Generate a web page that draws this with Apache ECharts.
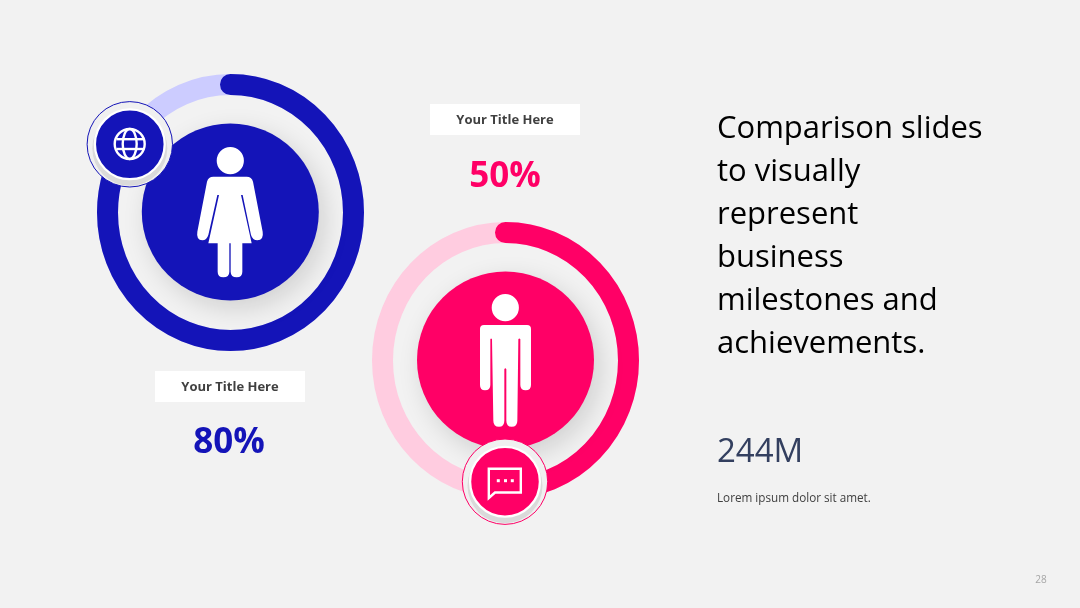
<!DOCTYPE html>
<html><head><meta charset="utf-8">
<style>html,body{margin:0;padding:0;background:#f2f2f2}#c{width:1080px;height:608px}</style>
<script src="https://cdn.jsdelivr.net/npm/echarts@6/dist/echarts.min.js"></script>
</head><body><div id="c"></div>
<script>
const ringLabels = ['Your Title Here', 'Your Title Here'];
const ringValues = [80, 50];
const ringColors = ['#1414B8', '#FF0066'];
const trackColors = ['#CCCCFF', '#FFCCE0'];
const headline = ['Comparison slides', 'to visually', 'represent', 'business', 'milestones and', 'achievements.'];
const statValue = '244M';
const statNote = 'Lorem ipsum dolor sit amet.';
const pageNumber = '28';

const FONT = '"Open Sans","Noto Sans",sans-serif';
const chart = echarts.init(document.getElementById('c'), null, {renderer: 'canvas'});

// The reference rings are very slightly taller than wide, so they are drawn as elliptical arcs.
function ring(i, cx, cy) {
  const rx = 123, ry = 128, width = 21;
  return {
    type: 'custom', coordinateSystem: 'none', z: 2, silent: true, animation: false,
    name: ringLabels[i],
    data: [[ringValues[i]]],
    renderItem(params, api) {
      const a = echarts.number.linearMap(api.value(0), [0, 100], [0, 2 * Math.PI]);
      const ex = cx + rx * Math.sin(a), ey = cy - ry * Math.cos(a);
      const large = a > Math.PI ? 1 : 0;
      return {type: 'group', children: [
        {type: 'ellipse', shape: {cx, cy, rx, ry}, style: {fill: 'none', stroke: trackColors[i], lineWidth: width}},
        {type: 'path', shape: {pathData: `M${cx} ${cy - ry}A${rx} ${ry} 0 ${large} 1 ${ex} ${ey}`},
          style: {fill: 'none', stroke: ringColors[i], lineWidth: width, lineCap: 'round'}}
      ]};
    }
  };
}
function disc(cx, cy, r, color) {
  return {type: 'circle', z: 10, shape: {cx, cy, r},
    style: {fill: color, shadowBlur: 26, shadowOffsetX: 6, shadowOffsetY: 8, shadowColor: 'rgba(0,0,0,0.14)'}};
}
function badge(cx, cy, color) {
  return [
    {type: 'circle', z: 20, shape: {cx, cy, r: 42.7}, style: {fill: '#F0F0F0', stroke: color, lineWidth: 1}},
    {type: 'circle', z: 21, shape: {cx, cy: cy + 4, r: 37.5}, style: {fill: '#DADADA'}},
    {type: 'circle', z: 22, shape: {cx, cy, r: 34.9}, style: {fill: color, stroke: '#fff', lineWidth: 2.3}}
  ];
}
function label(cx, cy, txt, size, fill, weight) {
  return {type: 'text', z: 30, x: cx, y: cy,
    style: {text: txt, fill, font: `${weight || 'bold'} ${size}px ${FONT}`, align: 'center', verticalAlign: 'middle'}};
}
function left(x, cy, txt, size, fill) {
  return {type: 'text', z: 30, x, y: cy,
    style: {text: txt, fill, font: `${size}px ${FONT}`, align: 'left', verticalAlign: 'middle'}};
}
const WOMAN = 'M400 350L500 350Q515 350 519 365L548 515Q552 540 532 541Q518 541 513 525L488 405L483 405L515 550L487 550L487 635Q487 652 470 652Q452 652 452 635L452 550L448 550L448 635Q448 652 430 652Q413 652 413 635L413 550L385 550L417 405L412 405L385 525Q380 541 367 541Q348 540 352 515L381 365Q385 350 400 350Z';
const MAN = 'M372 345L501 345Q513 345 513 357L513 525Q513 541 497 541Q481 541 481 525L481 388Q478 383 475 388L472 632Q472 650 455 650Q439 650 439 632L439 478Q436 472 433 478L433 632Q433 650 417 650Q400 650 400 632L396 388Q393 383 391 388L391 525Q391 541 375 541Q360 541 360 525L360 357Q360 345 372 345Z';
echarts.graphic.registerShape('womanIcon', echarts.graphic.extendPath(WOMAN, {}));
echarts.graphic.registerShape('manIcon', echarts.graphic.extendPath(MAN, {}));
const icon = (type, x, y) => ({type, z: 25, x, y, scaleX: 1 / 3, scaleY: 1 / 3, style: {fill: '#fff'}});
const white = {fill: 'none', stroke: '#fff', lineWidth: 2.4};
const dot = (x, y) => ({type: 'rect', z: 25, shape: {x: x - 1.5, y: y - 1.5, width: 3, height: 3}, style: {fill: '#fff'}});

const elements = [
  disc(230.3, 212, 88.5, ringColors[0]),
  disc(505.5, 360, 88.5, ringColors[1]),
  {type: 'circle', z: 25, shape: {cx: 230.3, cy: 160.7, r: 13.6}, style: {fill: '#fff'}},
  icon('womanIcon', 80, 60),
  {type: 'circle', z: 25, shape: {cx: 505.3, cy: 307.7, r: 13.6}, style: {fill: '#fff'}},
  icon('manIcon', 360, 210),
  ...badge(129.8, 144.3, ringColors[0]),
  ...badge(505, 481.7, ringColors[1]),
  {type: 'circle', z: 25, shape: {cx: 129.7, cy: 144, r: 15}, style: white},
  {type: 'ellipse', z: 25, shape: {cx: 129.7, cy: 144, rx: 7, ry: 15}, style: white},
  {type: 'line', z: 25, shape: {x1: 116.5, y1: 139.2, x2: 143, y2: 139.2}, style: white},
  {type: 'line', z: 25, shape: {x1: 116.5, y1: 149, x2: 143, y2: 149}, style: white},
  {type: 'polygon', z: 25, shape: {points: [[488.8, 468.8], [520.8, 468.8], [520.8, 492.5], [495, 492.5], [488.8, 498]]}, style: white},
  dot(498.3, 480.7), dot(505.5, 480.7), dot(512.3, 480.7),
  {type: 'rect', z: 5, shape: {x: 155, y: 371, width: 150, height: 31}, style: {fill: '#fff'}},
  {type: 'rect', z: 5, shape: {x: 430, y: 104, width: 150, height: 31}, style: {fill: '#fff'}},
  label(230, 387.5, ringLabels[0], 13, '#404040'),
  label(505, 120.5, ringLabels[1], 13, '#404040'),
  label(229, 443, ringValues[0] + '%', 35, ringColors[0]),
  label(505, 177, ringValues[1] + '%', 35, ringColors[1]),
  ...headline.map((t, i) => left(717, 129 + i * 43, t, 31, '#000')),
  left(717, 453, statValue, 33, '#333F5F'),
  left(717, 498.5, statNote, 11.7, '#404040'),
  label(1041, 580, pageNumber, 10, '#a6a6a6', 'normal')
];

chart.setOption({
  backgroundColor: '#F2F2F2',
  animation: false,
  series: [ring(0, 230.5, 212.5), ring(1, 505.5, 360.5)],
  graphic: {elements}
});
</script></body></html>
